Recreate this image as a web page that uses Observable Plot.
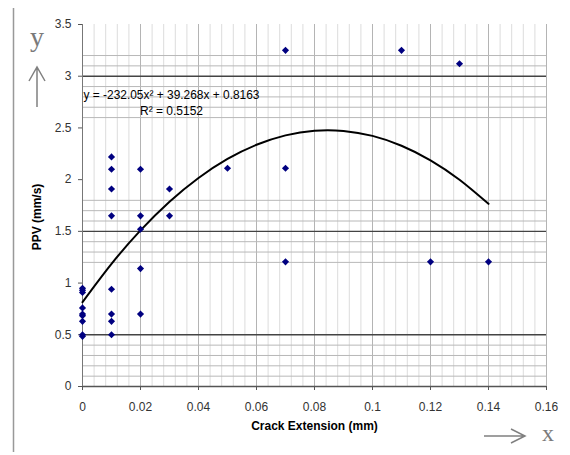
<!DOCTYPE html>
<html>
<head>
<meta charset="utf-8">
<script src="https://cdn.jsdelivr.net/npm/d3@7"></script>
<script src="https://cdn.jsdelivr.net/npm/@observablehq/plot@0.6"></script>
<style>
  html, body { margin: 0; padding: 0; background: #fff; }
  #wrap { position: relative; width: 570px; height: 455px; }
  #wrap svg { position: absolute; left: 0; top: 0; }
</style>
</head>
<body>
<div id="wrap"></div>
<script>
// Observed data points (crack extension mm, PPV mm/s)
const crackX = [
  0, 0, 0, 0, 0, 0, 0, 0, 0,
  0.01, 0.01, 0.01, 0.01, 0.01, 0.01, 0.01, 0.01,
  0.02, 0.02, 0.02, 0.02, 0.02,
  0.03, 0.03,
  0.05,
  0.07, 0.07, 0.07,
  0.11,
  0.12,
  0.13,
  0.14
];
const ppvY = [
  0.95, 0.93, 0.91, 0.76, 0.70, 0.685, 0.63, 0.50, 0.485,
  2.22, 2.10, 1.91, 1.65, 0.94, 0.70, 0.63, 0.50,
  2.10, 1.65, 1.52, 1.14, 0.70,
  1.91, 1.65,
  2.11,
  3.25, 2.11, 1.205,
  3.25,
  1.205,
  3.12,
  1.205
];
// Polynomial trendline, values
const trendX = [0, 0.01, 0.02, 0.03, 0.04, 0.05, 0.06, 0.07, 0.08, 0.09, 0.10, 0.11, 0.12, 0.13, 0.14];
const trendY = [0.816, 1.186, 1.509, 1.786, 2.016, 2.200, 2.337, 2.428, 2.473, 2.471, 2.423, 2.328, 2.187, 1.999, 1.766];

// Tick labels and gridlines
const xTicks = [0, 0.02, 0.04, 0.06, 0.08, 0.1, 0.12, 0.14, 0.16];
const yTicks = [0, 0.5, 1, 1.5, 2, 2.5, 3, 3.5];
const xMinorGrid = d3.range(0, 41).map(i => +(i * 0.004).toFixed(3));
const yMinorGrid = [0.1, 0.2, 0.3, 0.4, 1.2, 1.3, 1.4, 1.6, 1.7, 1.8, 2.6, 2.7, 2.8, 2.9, 3.1, 3.2];
const yMajorGrid = [0.5, 1.5, 3];

const eqText = "y = -232.05x² + 39.268x + 0.8163";
const r2Text = "R² = 0.5152";
const xTitle = "Crack Extension (mm)";
const yTitle = "PPV (mm/s)";

const points = crackX.map((x, i) => ({x, y: ppvY[i]}));
const trend = trendX.map((x, i) => ({x, y: trendY[i]}));

const chart = Plot.plot({
  width: 570,
  height: 455,
  marginLeft: 82,
  marginRight: 24,
  marginTop: 24,
  marginBottom: 69,
  style: {fontFamily: "'Liberation Sans', Arial, sans-serif", fontSize: "12px", color: "#333", background: "transparent"},
  x: {domain: [0, 0.16]},
  y: {domain: [0, 3.5]},
  marks: [
    Plot.ruleX(xMinorGrid.filter(v => Math.round(v * 1000) % 20 !== 0), {stroke: "#dcdcdc", strokeWidth: 1}),
    Plot.ruleX(xTicks.slice(1), {stroke: "#b4b4b4", strokeWidth: 1}),
    Plot.ruleY(yMinorGrid, {stroke: "#b8b8b8", strokeWidth: 1}),
    Plot.ruleY(yMajorGrid, {stroke: "#444", strokeWidth: 1.4}),
    Plot.ruleY([0], {stroke: "#555", strokeWidth: 1.3}),
    Plot.ruleX([0], {stroke: "#777", strokeWidth: 1}),
    Plot.axisX({ticks: xTicks, tickSize: 4, tickPadding: 12, tickFormat: d => String(+d.toFixed(2)), stroke: "#555", label: null}),
    Plot.axisY({ticks: yTicks, tickSize: 4, tickPadding: 7, tickFormat: d => String(d), stroke: "#555", label: null}),
    Plot.line(trend, {x: "x", y: "y", curve: "natural", stroke: "#000", strokeWidth: 2}),
    Plot.dot(points, {x: "x", y: "y", symbol: "diamond2", r: 3.2, fill: "#000080", stroke: "none"}),
    Plot.text([eqText], {frameAnchor: "top-left", dx: 89, dy: 66, textAnchor: "middle", fontSize: 12, fill: "#000"}),
    Plot.text([r2Text], {frameAnchor: "top-left", dx: 89, dy: 82, textAnchor: "middle", fontSize: 12, fill: "#000"}),
    Plot.text([xTitle], {frameAnchor: "bottom", dy: 43, fontSize: 12, fontWeight: "bold", fill: "#000"})
  ]
});
document.getElementById("wrap").appendChild(chart);
// stretch the equation to the width it has in the source figure
d3.select(chart).selectAll("text")
  .filter(function () { return this.textContent === eqText; })
  .attr("textLength", 176).attr("lengthAdjust", "spacingAndGlyphs");

// Decorative frame line, y-axis title and axis arrows from the source figure
const ns = "http://www.w3.org/2000/svg";
const deco = d3.select("#wrap").append("svg")
  .attr("xmlns", ns)
  .attr("width", 570).attr("height", 455)
  .style("pointer-events", "none");
deco.append("line").attr("x1", 13.5).attr("x2", 13.5).attr("y1", 8).attr("y2", 452)
  .attr("stroke", "#999").attr("stroke-width", 1.5);
deco.append("text").attr("transform", "translate(41,217) rotate(-90)").attr("text-anchor", "middle")
  .attr("font-family", "'Liberation Sans', Arial, sans-serif").attr("font-size", 12)
  .attr("font-weight", "bold").attr("fill", "#000").text(yTitle);
// up arrow
deco.append("path").attr("d", "M37,107 L37,67 M29,81 L37,67 L45,81")
  .attr("fill", "none").attr("stroke", "#808080").attr("stroke-width", 1.5);
deco.append("text").attr("x", 37).attr("y", 46).attr("text-anchor", "middle")
  .attr("font-family", "'Liberation Serif', 'Times New Roman', serif").attr("font-size", 28)
  .attr("fill", "#7a7a7a").text("y");
// right arrow
deco.append("path").attr("d", "M484,436 L525,436 M511,429 L525,436 L511,443")
  .attr("fill", "none").attr("stroke", "#808080").attr("stroke-width", 1.5);
deco.append("text").attr("x", 548).attr("y", 441).attr("text-anchor", "middle")
  .attr("font-family", "'Liberation Serif', 'Times New Roman', serif").attr("font-size", 24)
  .attr("fill", "#7a7a7a").text("x");
</script>
</body>
</html>
